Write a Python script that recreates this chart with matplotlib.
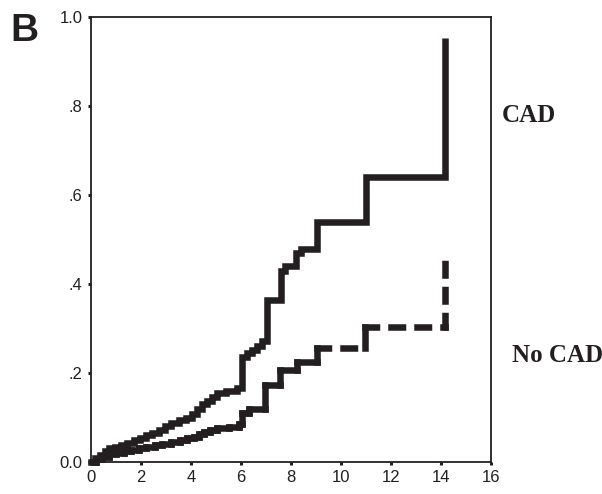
import matplotlib
matplotlib.use("Agg")
import matplotlib.pyplot as plt

# datos (tiempo en anos, incidencia acumulada)
cad_x = [0, 0.15, 0.35, 0.55, 0.7, 0.95, 1.2, 1.45, 1.7, 1.95, 2.2, 2.45, 2.7, 2.95,
         3.2, 3.5, 3.8, 4.05, 4.25, 4.45, 4.65, 4.85, 5.05, 5.4, 5.85, 6.04, 6.25,
         6.45, 6.65, 6.85, 7.03, 7.6, 7.75, 8.2, 8.4, 9.03, 11.0, 14.15]
cad_y = [0, 0.008, 0.016, 0.025, 0.031, 0.034, 0.038, 0.043, 0.049, 0.055, 0.06, 0.066,
         0.072, 0.08, 0.088, 0.094, 0.098, 0.108, 0.118, 0.13, 0.138, 0.146, 0.155, 0.16,
         0.166, 0.236, 0.245, 0.252, 0.26, 0.272, 0.364, 0.43, 0.44, 0.47, 0.478, 0.54,
         0.64, 0.953]

nocad_x = [0, 0.2, 0.45, 0.7, 1.0, 1.3, 1.6, 1.9, 2.2, 2.55, 2.85, 3.2, 3.55, 3.85,
           4.1, 4.3, 4.5, 4.75, 5.05, 5.5, 5.9, 6.04, 6.3, 6.96, 7.56, 8.24, 9.04,
           10.96, 14.16]
nocad_y = [0, 0.006, 0.012, 0.018, 0.021, 0.024, 0.028, 0.031, 0.034, 0.038, 0.041,
           0.045, 0.05, 0.053, 0.057, 0.062, 0.067, 0.071, 0.076, 0.079, 0.085, 0.11,
           0.12, 0.173, 0.207, 0.225, 0.256, 0.303, 0.454]

x_ticks = [0, 2, 4, 6, 8, 10, 12, 14, 16]
y_ticks = [0, 0.2, 0.4, 0.6, 0.8, 1.0]
y_labels = ["0.0", ".2", ".4", ".6", ".8", "1.0"]

negro = "#231f20"
lw = 4.7

fig = plt.figure(figsize=(6.02, 4.94), dpi=100)
ax = fig.add_axes([91 / 602, 1 - 462 / 494, 400 / 602, 445 / 494])

# curva CAD (continua, escalonada)
ax.step(cad_x, cad_y, where="post", color=negro, linewidth=lw,
        solid_joinstyle="miter", solid_capstyle="butt", clip_on=False)

# curva sin CAD: cada tramo por separado; los tramos largos salen discontinuos
lw_px = lw * 100 / 72
patron = (0, ((18 - lw_px) / lw_px, (8 + lw_px) / lw_px))
px_x = 400 / 16
px_y = 445 / 1.0
segmentos = []
for i in range(len(nocad_x) - 1):
    segmentos.append(([nocad_x[i], nocad_x[i + 1]], [nocad_y[i], nocad_y[i]]))
    segmentos.append(([nocad_x[i + 1], nocad_x[i + 1]], [nocad_y[i], nocad_y[i + 1]]))
for sx, sy in segmentos:
    largo = abs(sx[1] - sx[0]) * px_x + abs(sy[1] - sy[0]) * px_y
    estilo = patron if largo > 30 else "-"
    ax.plot(sx, sy, color=negro, linewidth=lw, linestyle=estilo,
            dash_capstyle="projecting", solid_capstyle="projecting", clip_on=False)

ax.set_xlim(0, 16)
ax.set_ylim(0, 1.0)
ax.set_xticks(x_ticks)
ax.set_xticklabels([str(t) for t in x_ticks])
ax.set_yticks(y_ticks)
ax.set_yticklabels(y_labels)

for s in ax.spines.values():
    s.set_color(negro)
    s.set_linewidth(1.3)

ax.tick_params(direction="out", length=2.5, width=2.2, color=negro, pad=3.5,
               labelsize=12, labelcolor=negro)
for lab in ax.get_xticklabels() + ax.get_yticklabels():
    lab.set_family("Liberation Sans")

fig.text(10 / 602, 1 - 41 / 494, "B", fontsize=28, fontweight="bold",
         family="Liberation Sans", color=negro, va="baseline", ha="left")
fig.text(502 / 602, 1 - 122 / 494, "CAD", fontsize=18, fontweight="bold",
         family="Liberation Serif", color=negro, va="baseline", ha="left")
fig.text(512 / 602, 1 - 362 / 494, "No CAD", fontsize=18, fontweight="bold",
         family="Liberation Serif", color=negro, va="baseline", ha="left")

fig.savefig("out.png", dpi=100)
